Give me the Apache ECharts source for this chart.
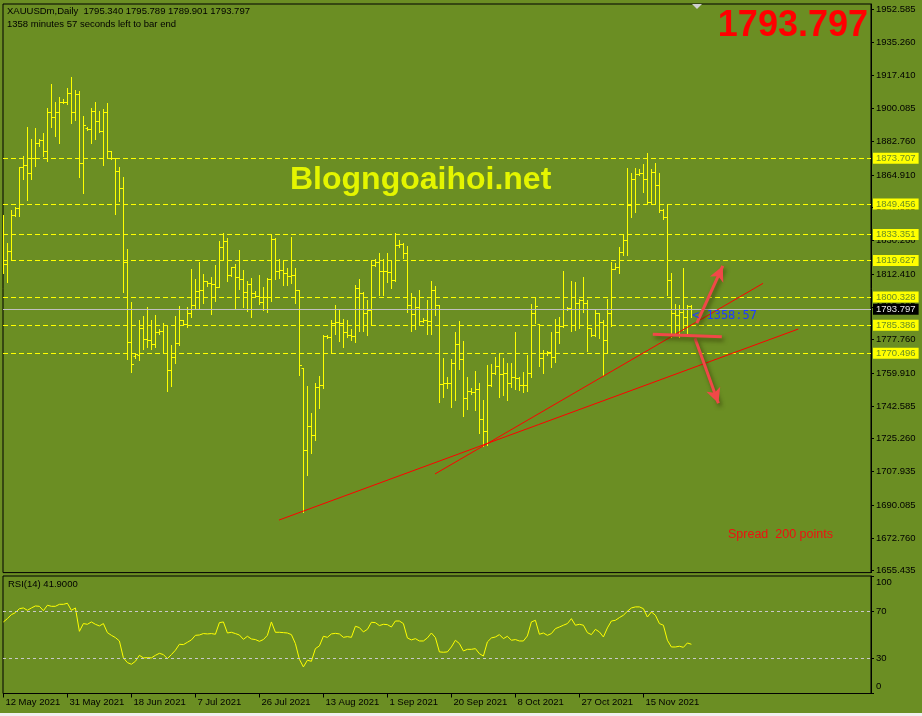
<!DOCTYPE html>
<html><head><meta charset="utf-8">
<script src="https://cdn.jsdelivr.net/npm/echarts@6/dist/echarts.min.js"></script>
<style>html,body{margin:0;padding:0;background:#6b8e23;}#c{width:922px;height:716px;}</style>
</head><body><div id="c"></div>
<script>
// ---------- data ----------
const openP = [
1822.0,1817.8,1824.8,1843.7,1847.6,1868.9,1870.0,1865.7,1874.0,1881.6,
1883.4,1877.6,1898.0,1895.7,1898.0,1903.7,1903.5,1908.1,1898.4,1907.6,
1871.0,1890.0,1889.0,1898.8,1893.3,1888.3,1898.4,1877.6,1873.7,1866.8,
1858.0,1819.0,1776.6,1769.0,1769.5,1783.7,1777.9,1777.5,1775.2,1781.6,
1782.5,1770.8,1761.6,1768.4,1776.0,1788.0,1786.0,1791.6,1795.8,1803.6,
1804.0,1808.7,1807.5,1807.0,1805.8,1826.6,1830.1,1811.9,1816.0,1811.0,
1809.6,1803.1,1807.1,1802.6,1800.8,1797.8,1800.4,1809.8,1830.8,1814.2,
1814.6,1812.8,1811.4,1811.9,1804.0,1762.5,1719.3,1732.0,1727.2,1752.5,
1753.8,1779.6,1779.3,1786.5,1787.2,1786.3,1781.9,1780.0,1779.5,1804.9,
1802.2,1791.6,1793.5,1817.0,1819.0,1814.2,1814.0,1813.7,1809.3,1827.8,
1828.3,1823.4,1796.0,1791.3,1794.8,1787.7,1788.2,1787.7,1804.0,1796.0,
1754.0,1754.6,1754.9,1765.2,1775.2,1767.3,1746.6,1750.7,1749.8,1751.6,
1735.5,1729.5,1753.7,1759.9,1763.9,1759.5,1759.9,1754.9,1757.8,1757.2,
1753.7,1753.7,1760.2,1791.6,1786.0,1767.8,1770.5,1771.0,1768.7,1781.9,
1784.9,1793.8,1794.3,1794.1,1796.9,1798.5,1797.3,1783.7,1780.2,1791.6,
1787.2,1777.5,1791.6,1815.0,1816.3,1824.3,1830.5,1849.0,1862.6,1865.4,
1866.1,1862.6,1850.7,1866.6,1859.6,1846.3,1842.5,1809.3,1791.6,1790.7,
1792.5,1789.9,1795.340];
const highP = [
1843.7,1829.0,1846.3,1848.1,1869.3,1874.9,1890.5,1883.9,1889.8,1883.9,
1886.9,1900.5,1913.0,1903.3,1906.0,1905.1,1910.7,1916.6,1909.9,1909.3,
1896.1,1890.5,1900.2,1903.3,1898.9,1899.8,1903.0,1877.6,1873.7,1868.9,
1863.6,1825.7,1797.6,1770.5,1788.1,1790.2,1795.0,1788.1,1790.6,1783.2,
1786.3,1785.5,1774.9,1790.0,1795.5,1788.1,1795.2,1815.1,1809.8,1819.0,
1812.5,1808.7,1810.7,1817.2,1830.1,1834.0,1831.3,1816.3,1817.7,1825.2,
1814.6,1808.9,1810.2,1803.6,1811.9,1805.4,1810.2,1833.1,1831.3,1820.2,
1819.9,1815.5,1832.2,1815.5,1804.0,1762.5,1753.2,1738.7,1755.0,1758.4,
1780.2,1780.2,1788.0,1795.9,1793.8,1788.6,1788.1,1783.2,1806.4,1809.8,
1803.0,1798.7,1819.9,1820.4,1823.4,1820.2,1823.4,1819.9,1834.0,1830.5,
1828.7,1827.5,1802.2,1800.1,1804.0,1789.0,1798.7,1808.8,1806.1,1796.0,
1768.2,1758.1,1767.3,1781.8,1787.6,1777.0,1758.1,1752.3,1761.1,1754.9,
1745.8,1764.3,1764.8,1768.3,1770.5,1767.8,1765.3,1765.2,1781.6,1758.1,
1760.7,1769.6,1796.4,1800.5,1786.0,1772.2,1771.9,1781.9,1788.6,1789.5,
1814.0,1795.2,1808.8,1808.0,1799.0,1810.7,1798.7,1784.0,1793.4,1792.0,
1788.0,1799.0,1819.0,1818.5,1826.9,1833.5,1868.4,1865.7,1868.4,1867.9,
1870.7,1876.7,1867.9,1871.0,1865.7,1847.0,1849.3,1812.8,1796.6,1796.0,
1815.5,1796.0,1795.789];
const lowP = [
1813.2,1808.4,1819.9,1843.3,1843.3,1862.7,1851.6,1862.6,1869.6,1880.2,
1874.9,1872.3,1890.5,1885.5,1882.0,1902.8,1902.3,1892.2,1894.0,1863.6,
1855.5,1888.7,1881.6,1883.7,1887.8,1870.0,1874.0,1873.5,1844.0,1851.3,
1803.1,1767.3,1760.7,1768.2,1766.9,1772.6,1773.6,1772.9,1774.0,1780.7,
1770.5,1750.7,1753.3,1765.5,1774.9,1785.5,1784.6,1789.9,1793.9,1793.8,
1796.9,1806.1,1791.3,1798.3,1805.7,1819.9,1808.9,1811.4,1794.6,1804.3,
1794.8,1792.9,1789.5,1800.5,1796.4,1793.4,1792.5,1798.3,1809.8,1810.2,
1806.6,1806.6,1807.5,1797.3,1759.0,1686.6,1706.1,1717.9,1724.6,1741.6,
1751.9,1778.7,1770.8,1780.5,1777.0,1774.0,1779.3,1777.5,1776.6,1782.4,
1782.4,1780.0,1785.3,1816.5,1801.3,1801.3,1808.4,1804.9,1808.5,1827.0,
1821.1,1792.5,1782.5,1783.2,1786.0,1787.0,1780.7,1780.7,1790.7,1744.9,
1747.2,1751.9,1741.9,1745.8,1762.0,1737.3,1740.8,1748.8,1740.5,1728.1,
1721.4,1721.9,1753.2,1759.5,1747.5,1748.4,1745.8,1752.8,1751.4,1751.0,
1750.2,1750.5,1758.1,1786.3,1763.8,1760.2,1769.6,1763.4,1765.9,1776.1,
1784.6,1793.4,1782.5,1782.8,1783.9,1792.2,1771.9,1779.6,1779.6,1778.4,
1759.0,1770.5,1785.1,1814.9,1812.8,1822.5,1822.5,1842.8,1845.5,1864.9,
1856.0,1849.9,1849.9,1849.9,1845.5,1841.4,1801.3,1779.3,1780.7,1779.3,
1782.8,1780.5,1789.901];
const closeP = [
1817.8,1824.8,1843.7,1847.6,1868.9,1870.0,1865.7,1874.0,1881.6,1883.4,
1877.6,1898.0,1895.7,1898.0,1903.7,1903.5,1908.1,1898.4,1907.6,1871.0,
1891.2,1889.0,1898.8,1893.3,1888.3,1898.4,1877.8,1873.7,1866.8,1858.0,
1819.0,1776.6,1764.8,1770.1,1783.7,1777.9,1777.5,1775.2,1781.6,1782.5,
1770.8,1761.6,1768.4,1776.0,1788.0,1786.0,1791.6,1795.8,1803.6,1804.0,
1808.7,1807.5,1807.0,1805.8,1826.6,1830.1,1811.9,1816.0,1811.0,1809.6,
1803.1,1807.1,1802.6,1800.8,1797.8,1800.4,1809.8,1830.8,1814.2,1814.6,
1812.8,1811.4,1811.9,1804.0,1764.3,1719.3,1732.0,1727.2,1752.5,1753.8,
1779.6,1779.3,1786.5,1787.2,1786.3,1781.9,1780.0,1779.5,1804.9,1802.2,
1791.6,1793.5,1817.0,1819.0,1814.2,1814.0,1813.7,1809.3,1827.8,1828.3,
1823.4,1796.0,1791.3,1794.8,1787.7,1788.2,1787.7,1804.0,1796.0,1754.0,
1754.6,1754.9,1765.2,1775.2,1767.3,1746.6,1750.7,1749.8,1751.6,1735.5,
1729.5,1753.7,1759.9,1763.9,1759.5,1759.9,1754.9,1757.8,1757.2,1753.7,
1753.7,1760.2,1791.6,1795.5,1767.8,1770.5,1771.0,1768.7,1781.9,1784.9,
1793.8,1794.3,1794.1,1796.9,1798.5,1797.3,1783.7,1780.2,1791.6,1787.2,
1777.5,1791.6,1815.0,1816.3,1824.3,1830.5,1849.0,1862.6,1865.4,1866.1,
1862.6,1850.7,1866.6,1859.6,1846.3,1842.5,1809.3,1791.6,1790.7,1792.5,
1789.9,1795.7,1793.797];
const rsi14 = [
60.9,63.7,67.1,68.8,72.2,72.8,70.8,72.8,74.5,74.2,
70.5,75.1,74.2,74.2,75.9,75.9,76.8,70.8,72.8,52.9,
59.5,58.9,60.9,58.9,57.5,59.5,51.8,49.5,47.6,44.7,
30.3,26.3,24.9,27.4,32.5,30.3,30.5,30.3,32.5,34.2,
33.1,29.7,33.1,36.8,41.9,41.6,43.6,45.6,49.5,49.8,
51.0,50.7,51.0,50.4,60.3,60.9,51.5,52.1,51.0,49.8,
46.1,48.7,46.4,45.9,44.4,45.9,49.5,60.9,52.1,52.1,
51.8,51.5,50.1,42.5,29.1,22.6,28.3,27.4,38.2,40.5,
48.7,47.8,50.7,51.2,50.7,47.8,48.4,47.8,57.2,56.1,
52.4,54.6,60.6,60.3,57.8,58.9,58.6,56.6,61.7,61.7,
59.5,47.3,45.6,46.7,44.7,44.7,47.3,51.5,47.6,35.4,
35.1,35.4,39.6,45.3,42.5,36.2,37.6,37.6,38.2,33.9,
31.9,43.9,47.3,48.1,50.1,46.7,48.7,45.3,45.9,44.7,
44.7,49.0,60.9,62.3,50.4,51.5,49.5,51.0,55.2,56.6,
58.1,59.5,63.7,58.1,58.9,58.1,51.8,50.1,54.6,52.4,
48.1,55.8,61.7,62.3,64.6,66.6,70.0,72.8,73.7,73.7,
72.2,65.1,69.4,66.6,59.5,58.1,45.3,39.6,39.6,40.2,
39.3,43.0,41.9];

const dateLabels = ['12 May 2021','31 May 2021','18 Jun 2021','7 Jul 2021','26 Jul 2021','13 Aug 2021','1 Sep 2021','20 Sep 2021','8 Oct 2021','27 Oct 2021','15 Nov 2021'];
const dateTickBars = [0,16,32,48,64,80,96,112,128,144,160];
const priceTicks = [1952.585,1935.260,1917.410,1900.085,1882.760,1864.910,1847.585,1830.260,1812.410,1795.085,1777.760,1759.910,1742.585,1725.260,1707.935,1690.085,1672.760,1655.435];
const rsiTicks = [0,30,70,100];
const rsiLabelAt = [6.1,30,70,94.3];   // MT4 pulls the edge labels inside the pane
const levels = [1873.707,1849.456,1833.351,1819.627,1800.328,1785.386,1770.496];
const bidPrice = 1793.797;

// drawn objects (bar index, price)
const trendLines = [ [[68.9,1682.2],[198.7,1783.3]], [[107.9,1706.6],[189.9,1807.5]] ];
const arrowUp = [[173.35,1786.4],[179.85,1816.7]];
const arrowDown = [[172.9,1778.4],[178.75,1744.0]];
const crossBar = [[162.35,1780.5],[179.6,1779.3]];

// ---------- chart ----------
const FF = '"Liberation Sans", Arial, sans-serif';
const Y_MIN = 1654.38, Y_MAX = 1955.39;
const X_MIN = -0.1, X_MAX = 216.9;

const ohlc = closeP.map((c,i)=>[i, openP[i], highP[i], lowP[i], c]);
const rsiData = rsi14.map((v,i)=>[i,v]);

function renderBar(params, api){
  const i = api.value(0);
  const pO = api.coord([i, api.value(1)]);
  const pH = api.coord([i, api.value(2)]);
  const pL = api.coord([i, api.value(3)]);
  const pC = api.coord([i, api.value(4)]);
  const x = Math.floor(pH[0]) + 0.5;
  const yO = Math.round(pO[1]) + 0.5, yC = Math.round(pC[1]) + 0.5;
  const st = {stroke:'#ffff00', lineWidth:1};
  return {type:'group', children:[
    {type:'line', shape:{x1:x,y1:Math.round(pH[1]),x2:x,y2:Math.round(pL[1])+1}, style:st},
    {type:'line', shape:{x1:x-2,y1:yO,x2:x,y2:yO}, style:st},
    {type:'line', shape:{x1:x,y1:yC,x2:x+2.5,y2:yC}, style:st}
  ]};
}

const levelLabel = {show:true, position:'end', distance:2, formatter:'{b}',
  backgroundColor:'#ffff00', color:'#6b8e23', fontFamily:FF, fontSize:9.5, padding:[1,3,0,3]};

const option = {
  animation:false,
  backgroundColor:'#6b8e23',
  grid:[
    {left:3, top:4, width:868, height:568.6, show:true, borderColor:'#000', borderWidth:1, backgroundColor:'transparent'},
    {left:3, top:576, width:868, height:117.5, show:true, borderColor:'#000', borderWidth:1, backgroundColor:'transparent'}
  ],
  xAxis:[
    {type:'value', gridIndex:0, min:X_MIN, max:X_MAX, show:false, axisLine:{onZero:false}},
    {type:'value', gridIndex:1, min:X_MIN, max:X_MAX, axisLine:{show:false, onZero:false}, splitLine:{show:false},
     axisTick:{show:true, customValues:dateTickBars, length:4, lineStyle:{color:'#000'}},
     axisLabel:{show:true, customValues:dateTickBars, align:'left', margin:4, color:'#000', fontFamily:FF, fontSize:9.5,
       padding:[0,0,0,2], formatter:v=>{const k=dateTickBars.indexOf(Math.round(v)); return k>=0?dateLabels[k]:'';}}}
  ],
  yAxis:[
    {type:'value', gridIndex:0, position:'right', min:Y_MIN, max:Y_MAX, splitLine:{show:false},
     axisLine:{show:true, onZero:false, lineStyle:{color:'#000'}},
     axisTick:{show:true, customValues:priceTicks, length:3, lineStyle:{color:'#000'}},
     axisLabel:{show:true, customValues:priceTicks, formatter:v=>v.toFixed(3), margin:5, color:'#000', fontFamily:FF, fontSize:9.5}},
    {type:'value', gridIndex:1, position:'right', min:0, max:100, splitLine:{show:false},
     axisLine:{show:true, onZero:false, lineStyle:{color:'#000'}},
     axisTick:{show:true, customValues:rsiTicks, length:3, lineStyle:{color:'#000'}},
     axisLabel:{show:true, customValues:rsiLabelAt, margin:5, color:'#000', fontFamily:FF, fontSize:9.5,
       formatter:v=>{let b=0;rsiLabelAt.forEach((a,k)=>{if(Math.abs(a-v)<Math.abs(rsiLabelAt[b]-v))b=k;});return String(rsiTicks[b]);}}}
  ],
  series:[
    {type:'line', xAxisIndex:0, yAxisIndex:0, data:[], silent:true, z:1,
     markLine:{silent:true, symbol:['none','none'], animation:false, precision:3,
       lineStyle:{color:'#ffff00', type:[5,3], width:1},
       label:levelLabel,
       data: levels.map(v=>({yAxis:v, name:v.toFixed(3)})).concat([{yAxis:bidPrice, name:bidPrice.toFixed(3),
         lineStyle:{color:'#c0c0c0', type:'solid', width:1},
         label:Object.assign({}, levelLabel, {backgroundColor:'#000000', color:'#e8e8e8'})}])}},
    {type:'custom', xAxisIndex:0, yAxisIndex:0, data:ohlc, renderItem:renderBar, silent:true, z:3,
     encode:{x:0, y:[1,2,3,4]}, clip:true},
    {type:'line', xAxisIndex:0, yAxisIndex:0, data:[], silent:true, z:4,
     markLine:{silent:true, symbol:['none','none'], animation:false, label:{show:false},
       lineStyle:{color:'#ff0000', type:'solid', width:1},
       data: trendLines.map(t=>[{coord:t[0]},{coord:t[1]}])}},
    {type:'line', xAxisIndex:0, yAxisIndex:0, data:[], silent:true, z:5,
     markLine:{silent:true, animation:false, label:{show:false}, symbol:['none','arrow'], symbolSize:[11,15],
       itemStyle:{color:'#f04848'},
       lineStyle:{color:'#f04848', type:'solid', width:3, shadowColor:'rgba(40,40,0,0.6)', shadowBlur:4, shadowOffsetX:2, shadowOffsetY:3},
       data:[
         [{coord:arrowUp[0]},{coord:arrowUp[1]}],
         [{coord:arrowDown[0]},{coord:arrowDown[1]}],
         [{coord:crossBar[0], symbol:'none'},{coord:crossBar[1], symbol:'none'}]
       ]}},
    {type:'line', xAxisIndex:1, yAxisIndex:1, data:rsiData, showSymbol:false, symbol:'none', silent:true,
     lineStyle:{color:'#ffff00', width:1},
     markLine:{silent:true, symbol:['none','none'], animation:false, label:{show:false},
       lineStyle:{color:'#c8c8c8', type:[3,3], width:1},
       data:[{yAxis:30},{yAxis:70}]}}
  ],
  graphic:[
    {type:'rect', shape:{x:0,y:713,width:922,height:3}, style:{fill:'#f0f0f0'}, silent:true},
    {type:'polygon', shape:{points:[[692,4],[702,4],[697,9]]}, style:{fill:'#d0d0d0'}, silent:true, z:10},
    {type:'text', x:7, y:11, style:{text:'XAUUSDm,Daily  1795.340 1795.789 1789.901 1793.797', fill:'#000', font:'9.5px '+FF, textVerticalAlign:'middle'}, silent:true, z:10},
    {type:'text', x:7, y:24, style:{text:'1358 minutes 57 seconds left to bar end', fill:'#000', font:'9.5px '+FF, textVerticalAlign:'middle'}, silent:true, z:10},
    {type:'text', x:868, y:26, style:{text:'1793.797', fill:'#ff0000', font:'bold 36px '+FF, textAlign:'right', textVerticalAlign:'middle'}, silent:true, z:10},
    {type:'text', x:290, y:180, style:{text:'Blogngoaihoi.net', fill:'#e4f500', font:'bold 32px '+FF, textVerticalAlign:'middle'}, silent:true, z:10},
    {type:'text', x:692, y:316, style:{text:'< 1358:57', fill:'#1f3cff', font:'12px "DejaVu Sans Mono", monospace', textVerticalAlign:'middle'}, silent:true, z:10},
    {type:'text', x:728, y:535, style:{text:'Spread  200 points', fill:'#ee1111', font:'12.5px '+FF, textVerticalAlign:'middle'}, silent:true, z:10},
    {type:'text', x:8, y:584, style:{text:'RSI(14) 41.9000', fill:'#000', font:'9.5px '+FF, textVerticalAlign:'middle'}, silent:true, z:10}
  ]
};
const chart = echarts.init(document.getElementById('c'), null, {renderer:'canvas'});
chart.setOption(option);
</script></body></html>
